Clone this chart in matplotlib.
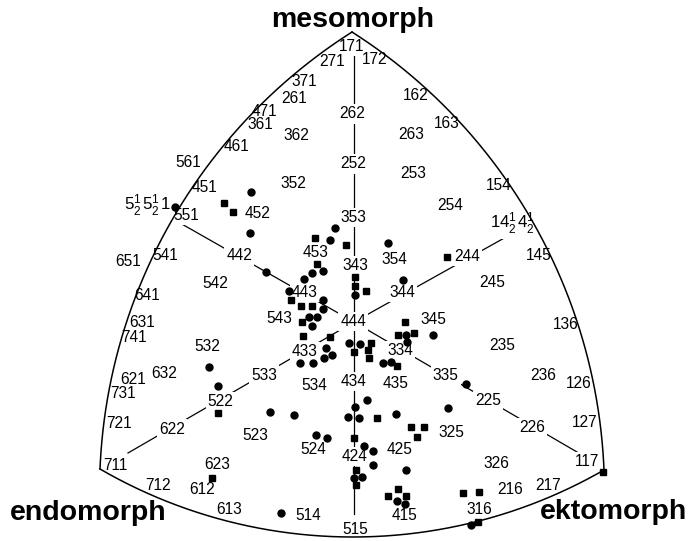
import numpy as np
import matplotlib.pyplot as plt

plt.rcParams["font.family"] = ["Liberation Sans", "DejaVu Sans"]
plt.rcParams["mathtext.fontset"] = "custom"
plt.rcParams["mathtext.rm"] = "Liberation Sans"
plt.rcParams["mathtext.it"] = "Liberation Sans"
plt.rcParams["mathtext.bf"] = "Liberation Sans:bold"

# Somatochart frame, in chart coordinates (y grows downwards)
# corners: mesomorph (top), endomorph (bottom left), ektomorph (bottom right)
corner_x = [352, 100, 604]
corner_y = [32, 469, 470]
centre_x, centre_y = 354, 322
# ends of the four slanted rays drawn from the centre (444)
ray_x = [180, 515, 128, 577]
ray_y = [223, 232, 453, 452]
# vertical axis 171 -> 515
axis_top, axis_bottom = 50, 514

half = r"\genfrac{}{}{0}{1}{1}{2}"
label_text = [
    "171", "271", "172", "371", "261", "471", "361", "362",
    "262", "162", "163", "263", "461", "252", "253", "352",
    "561", "451", "154", "$5" + half + "5" + half + "1$", "551", "452", "353", "254",
    "$14" + half + "4" + half + "$", "541", "651", "442", "453", "343", "354", "244",
    "145", "542", "245", "443", "344", "641", "543", "444",
    "345", "631", "136", "741", "235", "532", "433", "334",
    "632", "621", "533", "534", "434", "435", "335", "236",
    "126", "731", "522", "225", "127", "721", "622", "523",
    "226", "325", "524", "424", "425", "711", "623", "117",
    "326", "712", "612", "216", "217", "613", "514", "415",
    "316", "515",
]
label_x = [
    351.7, 332.3, 374.3, 304.3, 294.3, 264.3, 260.0, 296.7,
    352.3, 415.7, 446.7, 411.0, 236.7, 353.3, 413.3, 293.7,
    188.3, 204.5, 498.3, 147.0, 186.0, 257.5, 353.3, 450.0,
    512.7, 165.7, 127.7, 239.2, 316.0, 355.0, 394.3, 466.7,
    538.3, 215.0, 492.3, 305.0, 402.3, 146.7, 279.0, 353.3,
    433.3, 141.7, 565.7, 134.3, 502.3, 207.3, 305.0, 400.0,
    164.0, 132.7, 264.3, 314.3, 353.3, 395.7, 445.7, 542.7,
    578.3, 122.7, 220.7, 488.3, 585.0, 119.0, 171.7, 255.7,
    531.7, 451.0, 313.3, 355.0, 400.0, 115.0, 216.7, 587.3,
    496.0, 158.3, 201.7, 510.0, 548.3, 228.7, 308.3, 405.0,
    479.3, 355.0,
]
label_y = [
    46.7, 61.0, 59.3, 81.0, 98.3, 111.0, 124.5, 135.0,
    114.0, 95.0, 124.0, 134.3, 146.7, 164.0, 173.3, 184.0,
    162.7, 187.0, 186.0, 205.7, 215.7, 213.7, 217.7, 205.7,
    224.3, 255.0, 261.7, 256.0, 252.3, 265.7, 259.3, 256.7,
    256.0, 283.3, 282.7, 292.3, 292.3, 295.7, 318.3, 321.7,
    319.3, 322.3, 324.3, 337.3, 345.0, 346.7, 351.5, 350.5,
    373.3, 379.0, 375.0, 385.0, 381.7, 383.3, 375.0, 375.0,
    383.3, 393.3, 401.7, 400.7, 422.7, 424.0, 429.0, 435.0,
    427.7, 432.7, 449.3, 456.7, 450.0, 465.0, 464.3, 461.7,
    464.0, 486.0, 490.0, 490.0, 485.0, 510.0, 515.0, 515.7,
    509.3, 529.3,
]
# labels that sit on the drawn lines (the lines are broken there)
on_line = {"171", "262", "252", "353", "343", "444", "434", "424", "551",
           "442", "443", "344", "244", "433", "533", "522", "622", "711",
           "334", "335", "225", "226", "117", label_text[24]}

# plotted somatotypes: circles and squares
circle_x = [174.7, 251.0, 250.0, 266.0, 289.0, 304.0, 312.0, 323.0, 330.0, 335.0,
            388.5, 403.3, 355.0, 323.3, 322.7, 309.0, 316.7, 312.5, 326.0, 331.7,
            324.3, 312.7, 300.3, 349.5, 360.0, 406.5, 406.7, 433.0, 383.0, 391.0,
            209.3, 218.3, 270.0, 294.0, 355.0, 367.5, 348.5, 359.2, 396.5, 447.7,
            465.7, 315.7, 326.7, 364.3, 372.7, 372.7, 406.0, 354.0, 362.0, 397.0,
            405.0, 281.0, 470.7]
circle_y = [206.7, 192.0, 233.0, 272.0, 291.0, 279.0, 273.0, 271.0, 240.0, 227.5,
            242.7, 280.0, 295.0, 300.0, 309.0, 317.0, 317.3, 325.5, 347.5, 354.5,
            358.3, 362.7, 363.0, 343.3, 343.7, 334.5, 341.7, 335.0, 363.0, 361.5,
            367.3, 386.0, 412.0, 415.0, 406.7, 399.7, 416.7, 417.8, 414.2, 408.3,
            384.0, 435.0, 438.3, 445.7, 451.0, 465.3, 470.0, 477.7, 476.7, 501.0,
            504.3, 513.3, 525.0]
square_x = [224.5, 233.3, 315.5, 346.3, 316.7, 355.0, 355.0, 365.7, 291.0, 301.0,
            312.2, 302.5, 302.7, 330.0, 405.0, 397.7, 414.3, 371.0, 354.3, 367.8,
            369.2, 397.0, 446.7, 218.3, 212.0, 376.7, 411.0, 424.0, 417.3, 354.3,
            355.7, 355.7, 397.7, 387.7, 406.0, 463.3, 479.3, 478.3, 603.3]
square_y = [203.3, 212.0, 237.5, 244.7, 264.2, 276.7, 285.5, 291.3, 299.5, 305.7,
            306.0, 322.0, 336.0, 337.0, 321.7, 335.3, 333.3, 342.5, 351.7, 349.7,
            357.5, 365.7, 256.7, 413.3, 477.7, 418.2, 427.3, 427.3, 436.7, 438.3,
            470.0, 485.0, 489.3, 495.7, 495.7, 493.3, 491.7, 521.7, 471.7]


def arc_points(p0, p1, towards, sag, n=150):
    # circular arc from p0 to p1 bulging away from the point "towards"
    p0, p1, towards = (np.asarray(p, float) for p in (p0, p1, towards))
    mid = (p0 + p1) / 2
    d = p1 - p0
    h = np.linalg.norm(d) / 2
    r = (h ** 2 + sag ** 2) / (2 * sag)
    normal = np.array([-d[1], d[0]]) / (2 * h)
    if np.dot(towards - mid, normal) < 0:
        normal = -normal
    c = mid + normal * (r - sag)
    a0 = np.arctan2(p0[1] - c[1], p0[0] - c[0])
    a1 = np.arctan2(p1[1] - c[1], p1[0] - c[0])
    da = (a1 - a0 + np.pi) % (2 * np.pi) - np.pi
    t = a0 + da * np.linspace(0, 1, n)
    return c[0] + r * np.cos(t), c[1] + r * np.sin(t)


fig = plt.figure(figsize=(6.91, 5.41), dpi=100)
ax = fig.add_axes([0, 0, 1, 1])
ax.set_xlim(0, 691)
ax.set_ylim(541, 0)
ax.axis("off")

top, left, right = [(corner_x[i], corner_y[i]) for i in range(3)]
for p0, p1, opp, sag in [(top, left, right, 62), (top, right, left, 62),
                         (left, right, top, 67.5)]:
    xs, ys = arc_points(p0, p1, opp, sag)
    ax.plot(xs, ys, color="black", lw=1.1, zorder=4)

ax.plot([centre_x, centre_x], [axis_top, axis_bottom], color="black", lw=0.9, zorder=1)
for x, y in zip(ray_x, ray_y):
    ax.plot([centre_x, x], [centre_y, y], color="black", lw=0.9, zorder=1)

for text, x, y in zip(label_text, label_x, label_y):
    box = dict(facecolor="white", edgecolor="none", pad=1.5) if text in on_line else None
    size = 12.2 if text.startswith("$") else 11.2
    ax.text(x, y, text, fontsize=size, ha="center", va="center", bbox=box, zorder=2)

ax.plot(circle_x, circle_y, "o", color="black", ms=5, zorder=5)
ax.plot(square_x, square_y, "s", color="black", ms=4.3, zorder=5)

ax.text(353, 20, "mesomorph", fontsize=20.5, fontweight="bold", ha="center", va="center")
ax.text(88, 513, "endomorph", fontsize=20.5, fontweight="bold", ha="center", va="center")
ax.text(614, 512, "ektomorph", fontsize=20.5, fontweight="bold", ha="center", va="center")

fig.savefig("out.png", dpi=100)
